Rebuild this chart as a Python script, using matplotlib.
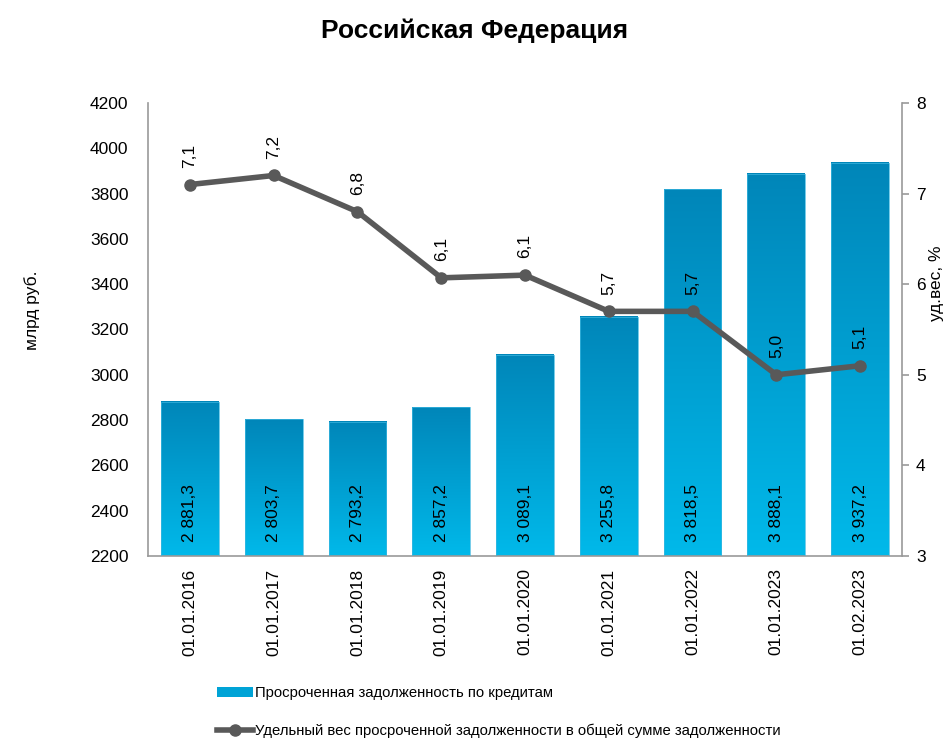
import numpy as np
import matplotlib
matplotlib.use("Agg")
import matplotlib.pyplot as plt
from matplotlib.colors import LinearSegmentedColormap
from matplotlib.patches import Patch
from matplotlib.lines import Line2D

# данные
dates = ["01.01.2016", "01.01.2017", "01.01.2018", "01.01.2019", "01.01.2020",
         "01.01.2021", "01.01.2022", "01.01.2023", "01.02.2023"]
overdue = [2881.3, 2803.7, 2793.2, 2857.2, 3089.1, 3255.8, 3818.5, 3888.1, 3937.2]
share = [7.1, 7.2, 6.8, 6.07, 6.1, 5.7, 5.7, 5.0, 5.1]

plt.rcParams['font.family'] = ['Liberation Sans', 'DejaVu Sans']

def fmt_rub(v):
    return f"{v:,.1f}".replace(",", " ").replace(".", ",")

fig = plt.figure(figsize=(9.5, 7.41), dpi=100)
ax = fig.add_axes([0.1558, 0.2497, 0.7937, 0.6113])
ax2 = ax.twinx()

cmap = LinearSegmentedColormap.from_list("bl", ["#00B9EA", "#0086B9"])
grad = np.linspace(0, 1, 256).reshape(-1, 1)
w = 0.69
x = np.arange(len(dates))
ymin = 2200
for xi, v in zip(x, overdue):
    ax.imshow(grad, extent=[xi - w / 2, xi + w / 2, ymin, v], origin="lower",
              aspect="auto", cmap=cmap, zorder=2)
    ax.bar(xi, v - ymin, bottom=ymin, width=w, facecolor="none",
           edgecolor="#3FB8E0", linewidth=0.5, zorder=3)
    ax.text(xi, 2262, fmt_rub(v), rotation=90, ha="center", va="bottom",
            fontsize=12.5, color="black", zorder=4)

ax.set_xlim(-0.5, len(dates) - 0.5)
ax.set_ylim(2200, 4200)
ax.set_yticks(range(2200, 4201, 200))
ax.set_xticks(x)
ax.set_xticklabels(dates, rotation=90, fontsize=12.5)
ax.tick_params(axis="y", length=0, pad=14, labelsize=12.5)
ax.tick_params(axis="x", length=0, pad=9)
for s in ["top", "right"]:
    ax.spines[s].set_visible(False)
for s in ["left", "bottom"]:
    ax.spines[s].set_color("#999999")
    ax.spines[s].set_linewidth(1.2)

ax2.plot(x, share, color="#595959", linewidth=4, marker="o", markersize=8, zorder=5)
for xi, v in zip(x, share):
    ax2.annotate(f"{v:.1f}".replace(".", ","), (xi, v), xytext=(0, 12),
                 textcoords="offset points", rotation=90, ha="center", va="bottom",
                 fontsize=12.5)
ax2.set_ylim(3, 8)
ax2.set_yticks(range(3, 9))
ax2.tick_params(axis="y", length=5, color="#999999", width=1.2, pad=5, labelsize=12.5)
for s in ["top", "left", "bottom"]:
    ax2.spines[s].set_visible(False)
ax2.spines["right"].set_color("#999999")
ax2.spines["right"].set_linewidth(1.2)

# подписи осей
fig.text(32 / 950, 1 - 310 / 741, "млрд руб.", rotation=90, ha="center", va="center",
         fontsize=12.5)
fig.text(937 / 950, 1 - 283 / 741, "уд.вес, %", rotation=90, ha="center", va="center",
         fontsize=12.5)

fig.text(0.5, 0.958, "Российская Федерация", ha="center", va="center",
         fontsize=19, fontweight="bold")

handles = [Patch(facecolor="#00A3D6", edgecolor="none"),
           Line2D([0], [0], color="#595959", linewidth=4, marker="o", markersize=8)]
labels = ["Просроченная задолженность по кредитам",
          "Удельный вес просроченной задолженности в общей сумме задолженности"]
fig.legend(handles, labels, loc="upper left", bbox_to_anchor=(0.222, 0.082),
           frameon=False, fontsize=10.7, handlelength=2.4, handleheight=0.6,
           handletextpad=0.15, labelspacing=1.6, borderaxespad=0,
           bbox_transform=fig.transFigure)

fig.savefig("out.png", dpi=100)
